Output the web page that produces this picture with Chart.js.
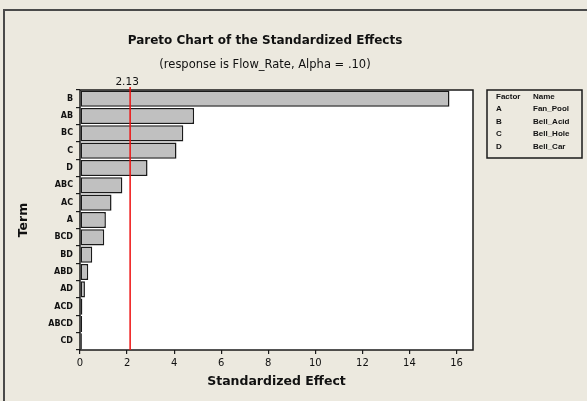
<!DOCTYPE html>
<html><head><meta charset="utf-8">
<script src="https://cdn.jsdelivr.net/npm/chart.js@4/dist/chart.umd.min.js"></script>
<style>html,body{margin:0;padding:0;background:#ECE9DF;}#wrap{width:587px;height:401px;position:relative;}</style>
</head><body><div id="wrap"><canvas id="c" width="587" height="401"></canvas></div>
<script>
// Effect terms, ordered from largest to smallest standardized effect
const terms = ['B','AB','BC','C','D','ABC','AC','A','BCD','BD','ABD','AD','ACD','ABCD','CD'];
const effects = [15.7,4.85,4.39,4.1,2.87,1.8,1.34,1.1,1.03,0.52,0.35,0.21,0.1,0.09,0.08];
const xTicks = [0,2,4,6,8,10,12,14,16];
const xMax = 16.7;
const criticalValue = 2.13;
const criticalLabel = '2.13';
const factorLetters = ['A','B','C','D'];
const factorNames = ['Fan_Pool','Bell_Acid','Bell_Hole','Bell_Car'];
const chartTitle = 'Pareto Chart of the Standardized Effects';
const chartSubtitle = '(response is Flow_Rate, Alpha = .10)';
const xTitle = 'Standardized Effect';
const yTitle = 'Term';

const FONT = '"DejaVu Sans", "Liberation Sans", sans-serif';
const FONT_N = '"Liberation Sans", Arial, sans-serif';

const decorations = {
  id: 'decorations',
  beforeDraw(chart) {
    const ctx = chart.ctx;
    ctx.save();
    ctx.fillStyle = '#ECE9DF';
    ctx.fillRect(0, 0, chart.width, chart.height);
    // outer frame
    ctx.strokeStyle = '#4a4a4a';
    ctx.lineWidth = 2;
    ctx.beginPath();
    ctx.moveTo(4, chart.height + 2);
    ctx.lineTo(4, 10);
    ctx.lineTo(chart.width + 2, 10);
    ctx.stroke();
    // plot background
    const a = chart.chartArea;
    ctx.fillStyle = '#ffffff';
    ctx.fillRect(a.left, a.top, a.right - a.left, a.bottom - a.top);
    ctx.restore();
  },
  afterDraw(chart) {
    const ctx = chart.ctx;
    const a = chart.chartArea;
    const xs = chart.scales.x;
    ctx.save();
    // plot frame
    ctx.strokeStyle = '#1a1a1a';
    ctx.lineWidth = 1.5;
    ctx.strokeRect(a.left, a.top, a.right - a.left, a.bottom - a.top);
    // reference line at the critical value
    const cx = xs.getPixelForValue(criticalValue);
    ctx.strokeStyle = '#ee1111';
    ctx.lineWidth = 1.5;
    ctx.beginPath();
    ctx.moveTo(cx, a.top - 3);
    ctx.lineTo(cx, a.bottom);
    ctx.stroke();
    ctx.fillStyle = '#111';
    ctx.textAlign = 'center';
    ctx.textBaseline = 'middle';
    ctx.font = '10.5px ' + FONT;
    ctx.fillText(criticalLabel, cx - 3, 82);

    // titles
    ctx.font = 'bold 12px ' + FONT;
    ctx.fillText(chartTitle, 265, 41);
    ctx.font = '11.5px ' + FONT;
    ctx.fillText(chartSubtitle, 265, 65);
    ctx.font = 'bold 12.5px ' + FONT;
    ctx.fillText(xTitle, (a.left + a.right) / 2, 382);
    ctx.save();
    ctx.translate(24, 220);
    ctx.rotate(-Math.PI / 2);
    ctx.fillText(yTitle, 0, 0);
    ctx.restore();

    // factor key
    ctx.strokeStyle = '#1a1a1a';
    ctx.lineWidth = 1.5;
    ctx.strokeRect(487, 90, 95, 68);
    ctx.textAlign = 'left';
    ctx.font = 'bold 8px ' + FONT_N;
    ctx.fillText('Factor', 496, 97);
    ctx.fillText('Name', 533, 97);
    factorLetters.forEach((f, i) => {
      const y = 109 + i * 12.5;
      ctx.fillText(f, 496, y);
      ctx.fillText(factorNames[i], 533, y);
    });
    ctx.restore();
  }
};

new Chart(document.getElementById('c'), {
  type: 'bar',
  data: {
    labels: terms,
    datasets: [{
      data: effects,
      backgroundColor: '#c0c0c0',
      borderColor: '#1a1a1a',
      borderWidth: 1.5,
      borderSkipped: false,
      barPercentage: 0.93,
      categoryPercentage: 1
    }]
  },
  options: {
    indexAxis: 'y',
    responsive: false,
    animation: false,
    devicePixelRatio: 1,
    layout: { padding: { top: 90, right: 114, left: 0, bottom: 0 } },
    plugins: { legend: { display: false }, tooltip: { enabled: false }, title: { display: false } },
    scales: {
      x: {
        type: 'linear',
        min: 0,
        max: xMax,
        grid: { display: true, drawOnChartArea: false, drawTicks: true, tickLength: 4, color: '#1a1a1a', lineWidth: 1.2 },
        border: { display: false },
        ticks: { color: '#111', font: { size: 10, family: FONT }, padding: 3, maxRotation: 0 },
        afterBuildTicks(scale) { scale.ticks = xTicks.map(v => ({ value: v })); },
        afterFit(scale) { scale.height = 51; }
      },
      y: {
        type: 'category',
        grid: { display: true, drawOnChartArea: false, drawTicks: true, tickLength: 4, color: '#1a1a1a', lineWidth: 1.2 },
        border: { display: false },
        ticks: { color: '#111', font: { size: 8, weight: 'bold', family: FONT }, padding: 3 },
        afterFit(scale) { scale.width = 80; }
      }
    }
  },
  plugins: [decorations]
});
</script>
</body></html>
